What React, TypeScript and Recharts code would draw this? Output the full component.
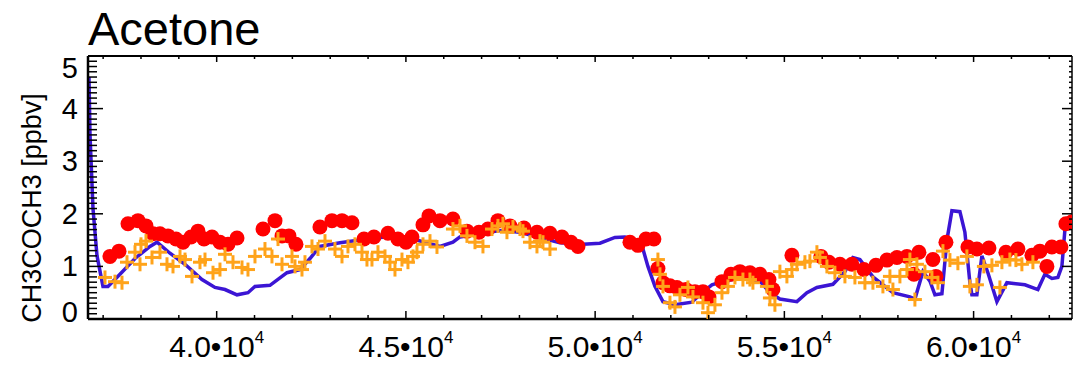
import React from "react"
import { ComposedChart, Line, Scatter, XAxis, YAxis, ReferenceLine } from "recharts"

// blue model curve: [x, ppbv]
const modelX = [36626, 36653, 36732, 36838, 36996, 37128, 37445, 37842, 38238, 38423, 38766, 39163, 39612, 39955, 40220, 40537, 40827, 41012, 41408, 41858, 42201, 42465, 42729, 43258, 43786, 44314, 44843, 45187, 45900, 46243, 46428, 46956, 47485, 48013, 48542, 49070, 49678, 50127, 50523, 50788, 50999, 51263, 51395, 51580, 51792, 52109, 52558, 52822, 53086, 53351, 53826, 54354, 54618, 54882, 55331, 55596, 55860, 56283, 56600, 56811, 56996, 57340, 57868, 58317, 58449, 58661, 58846, 58978, 59163, 59295, 59427, 59638, 59770, 59902, 59955, 60087, 60219, 60378, 60616, 60880, 61356, 61699, 61884, 62069, 62227, 62333, 62413, 62492, 62600]
const modelV = [4.6, 3.5, 2.1, 1.2, 0.62, 0.62, 0.85, 1.15, 1.38, 1.46, 1.25, 1.04, 0.75, 0.6, 0.56, 0.46, 0.5, 0.62, 0.64, 0.88, 0.94, 1.15, 1.38, 1.45, 1.5, 1.55, 1.58, 1.52, 1.38, 1.46, 1.56, 1.62, 1.68, 1.65, 1.55, 1.45, 1.42, 1.44, 1.55, 1.56, 1.52, 1.33, 1.0, 0.62, 0.33, 0.27, 0.32, 0.5, 0.65, 0.71, 0.78, 0.72, 0.5, 0.38, 0.33, 0.5, 0.6, 0.66, 0.9, 1.17, 1.13, 0.8, 0.5, 0.42, 0.38, 0.9, 0.72, 0.46, 0.48, 1.5, 2.06, 2.04, 1.65, 0.69, 0.46, 0.46, 1.2, 0.88, 0.33, 0.69, 0.65, 0.56, 0.85, 0.77, 0.79, 1.0, 1.7, 1.87, 1.9]

// red circles
const obsX = [37181, 37419, 37657, 37921, 38132, 38317, 38502, 38714, 38925, 39110, 39321, 39506, 39665, 39876, 40087, 40299, 40537, 41224, 41541, 41726, 41910, 42095, 42729, 43046, 43311, 43575, 43892, 44156, 44526, 44790, 45002, 45160, 45451, 45609, 45900, 46243, 46613, 46930, 47168, 47432, 47749, 48119, 48463, 48806, 49123, 49361, 49546, 50920, 51131, 51342, 51553, 51659, 51792, 51977, 52162, 52400, 52637, 52849, 53007, 53351, 53588, 53826, 54090, 54354, 54592, 54697, 55199, 55966, 56177, 56468, 56785, 57102, 57419, 57710, 57974, 58238, 58423, 58555, 58925, 59005, 59269, 59850, 60087, 60405, 60854, 61171, 61541, 61752, 61937, 62069, 62307, 62439, 62600]
const obsV = [1.19, 1.29, 1.81, 1.87, 1.77, 1.62, 1.62, 1.58, 1.52, 1.46, 1.56, 1.67, 1.52, 1.56, 1.46, 1.42, 1.54, 1.71, 1.87, 1.58, 1.58, 1.42, 1.75, 1.87, 1.87, 1.83, 1.52, 1.56, 1.63, 1.52, 1.46, 1.56, 1.79, 1.96, 1.87, 1.9, 1.67, 1.65, 1.71, 1.87, 1.77, 1.73, 1.65, 1.63, 1.56, 1.46, 1.38, 1.46, 1.4, 1.52, 1.52, 0.96, 0.69, 0.63, 0.6, 0.56, 0.52, 0.52, 0.42, 0.71, 0.85, 0.9, 0.88, 0.85, 0.75, 0.56, 1.21, 1.19, 1.08, 1.04, 1.04, 0.94, 1.02, 1.12, 1.17, 1.19, 0.85, 1.27, 1.13, 0.81, 1.46, 1.37, 1.33, 1.35, 1.27, 1.33, 1.21, 1.29, 1.0, 1.37, 1.37, 1.81, 1.85]

// orange pluses
const simX = [37049, 37313, 37498, 37630, 37842, 37974, 38000, 38132, 38291, 38502, 38687, 38846, 39031, 39163, 39348, 39559, 39691, 39903, 40087, 40220, 40431, 40669, 40827, 41012, 41276, 41461, 41620, 41726, 41990, 42069, 42254, 42333, 42518, 42677, 42862, 43126, 43311, 43469, 43654, 43839, 43971, 44103, 44262, 44447, 44579, 44711, 44896, 45054, 45187, 45292, 45451, 45636, 45821, 46243, 46428, 46613, 46825, 47036, 47274, 47432, 47564, 47670, 47829, 48013, 48093, 48278, 48463, 48542, 48622, 48806, 51659, 51712, 51792, 51977, 52109, 52241, 52452, 52584, 52849, 52981, 53165, 53351, 53509, 53694, 53905, 54090, 54169, 54539, 54618, 54750, 54882, 55067, 55199, 55331, 55543, 55675, 55860, 55939, 56124, 56335, 56600, 56864, 57128, 57340, 57604, 57789, 57868, 58053, 58238, 58317, 58449, 58502, 58714, 58899, 59058, 59190, 59374, 59585, 59823, 59902, 60087, 60272, 60484, 60695, 60748, 60959, 61118, 61276, 61567]
const simV = [0.79, 0.71, 0.69, 1.08, 1.27, 1.04, 1.42, 1.48, 1.17, 1.27, 1.04, 1.0, 1.19, 1.13, 0.81, 1.08, 1.13, 0.88, 0.94, 1.23, 1.08, 0.98, 0.94, 1.19, 1.33, 1.19, 1.52, 1.04, 1.19, 1.0, 0.94, 1.08, 1.38, 1.33, 1.48, 1.33, 1.19, 1.38, 1.42, 1.27, 1.13, 1.13, 1.27, 1.19, 1.08, 0.94, 1.13, 1.08, 1.19, 1.27, 1.42, 1.48, 1.37, 1.71, 1.77, 1.58, 1.46, 1.38, 1.71, 1.77, 1.81, 1.65, 1.75, 1.71, 1.67, 1.46, 1.38, 1.48, 1.46, 1.33, 1.13, 0.85, 0.62, 0.31, 0.23, 0.46, 0.6, 0.42, 0.31, 0.12, 0.27, 0.5, 0.62, 0.79, 0.75, 0.75, 0.69, 0.62, 0.4, 0.27, 0.9, 0.81, 0.94, 1.04, 1.08, 1.1, 1.27, 1.17, 1.0, 0.88, 0.81, 0.79, 0.69, 0.69, 0.62, 0.81, 0.56, 0.81, 0.94, 1.13, 0.37, 1.04, 0.9, 0.79, 0.69, 1.29, 1.12, 1.06, 1.19, 0.62, 0.65, 1.0, 1.02, 0.6, 1.08, 1.13, 1.12, 1.04, 1.08]

const xMajorTicks = [40000, 45000, 50000, 55000, 60000]
const yMajorTicks = [0, 1, 2, 3, 4, 5]
const X_DOMAIN = [36600, 62600]
const Y_DOMAIN = [0, 5]

const modelData = modelX.map((x, i) => ({ x, v: modelV[i] }))
const obsData = obsX.map((x, i) => ({ x, v: obsV[i] }))
const simData = simX.map((x, i) => ({ x, v: simV[i] }))

const xTicks: number[] = []
for (let t = 37000; t <= 62000; t += 1000) xTicks.push(t)
const yTicks: number[] = []
for (let i = 0; i <= 50; i++) yTicks.push(i / 10)

const W = 1074
const H = 365
const PLOT = { left: 88, right: 1072, top: 56, bottom: 319 }
const FONT = "'Liberation Sans', Arial, Helvetica, sans-serif"

const XTick = (props: any) => {
  const { x, payload } = props
  const major = xMajorTicks.includes(payload.value)
  const label = (payload.value / 10000).toFixed(1) + "\u202210"
  return (
    <g>
      <line x1={x} x2={x} y1={PLOT.bottom} y2={PLOT.bottom - (major ? 8 : 4)} stroke="#000" strokeWidth={1.5} />
      <line x1={x} x2={x} y1={PLOT.top} y2={PLOT.top + (major ? 6 : 3)} stroke="#000" strokeWidth={1.5} />
      {major && (
        <text x={x} y={357} textAnchor="middle" fontSize={30} fontFamily={FONT} fill="#000">
          {label}
          <tspan dy={-14} fontSize={17}>4</tspan>
        </text>
      )}
    </g>
  )
}

const YTick = (props: any) => {
  const { y, payload } = props
  const v = payload.value
  const major = yMajorTicks.some((t) => Math.abs(v - t) < 1e-6)
  let dy = 10
  if (v === 5) dy = 22
  if (v === 0) dy = 3
  return (
    <g>
      <line x1={PLOT.left} x2={PLOT.left + (major ? 15 : 9)} y1={y} y2={y} stroke="#000" strokeWidth={1.5} />
      <line x1={PLOT.right} x2={PLOT.right - (major ? 10 : 3)} y1={y} y2={y} stroke="#000" strokeWidth={1.5} />
      {major && (
        <text x={PLOT.left - 10} y={y + dy} textAnchor="end" fontSize={29} fontFamily={FONT} fill="#000">
          {Math.round(v)}
        </text>
      )}
    </g>
  )
}

const Dot = (props: any) => <circle cx={props.cx} cy={props.cy} r={7.5} fill="#ff0000" />

const Plus = (props: any) => {
  const { cx, cy } = props
  const s = 7
  return (
    <g stroke="#ffa31a" strokeWidth={3}>
      <line x1={cx - s} x2={cx + s} y1={cy} y2={cy} />
      <line x1={cx} x2={cx} y1={cy - s} y2={cy + s} />
    </g>
  )
}

export default function App() {
  return (
    <div style={{ position: "absolute", left: 0, top: 0, width: W, height: H, background: "#fff" }}>
      <ComposedChart width={W} height={H} margin={{ top: PLOT.top, right: W - PLOT.right, bottom: 0, left: 0 }}>
        <XAxis
          type="number"
          dataKey="x"
          domain={X_DOMAIN}
          allowDataOverflow
          ticks={xTicks}
          interval={0}
          tick={<XTick />}
          tickLine={false}
          tickSize={0}
          height={H - PLOT.bottom}
          axisLine={{ stroke: "#000", strokeWidth: 2.5 }}
        />
        <YAxis
          type="number"
          dataKey="v"
          domain={Y_DOMAIN}
          allowDataOverflow
          ticks={yTicks}
          interval={0}
          tick={<YTick />}
          tickLine={false}
          tickSize={0}
          width={PLOT.left}
          axisLine={{ stroke: "#000", strokeWidth: 2.5 }}
        />
        <ReferenceLine y={5} stroke="#000" strokeWidth={2} />
        <ReferenceLine x={62600} stroke="#000" strokeWidth={1.5} />
        <Line data={modelData} dataKey="v" type="linear" stroke="#3b15d4" strokeWidth={3.5} dot={false} isAnimationActive={false} />
        <Scatter data={obsData} shape={<Dot />} isAnimationActive={false} />
        <Scatter data={simData} shape={<Plus />} isAnimationActive={false} />
      </ComposedChart>
      <svg width={W} height={H} style={{ position: "absolute", left: 0, top: 0, pointerEvents: "none" }}>
        <text x={88} y={45} fontSize={47} fontFamily={FONT} fill="#000">Acetone</text>
        <text transform="translate(41,208) rotate(-90)" textAnchor="middle" fontSize={27} fontFamily={FONT} fill="#000">
          CH3COCH3 [ppbv]
        </text>
      </svg>
    </div>
  )
}
